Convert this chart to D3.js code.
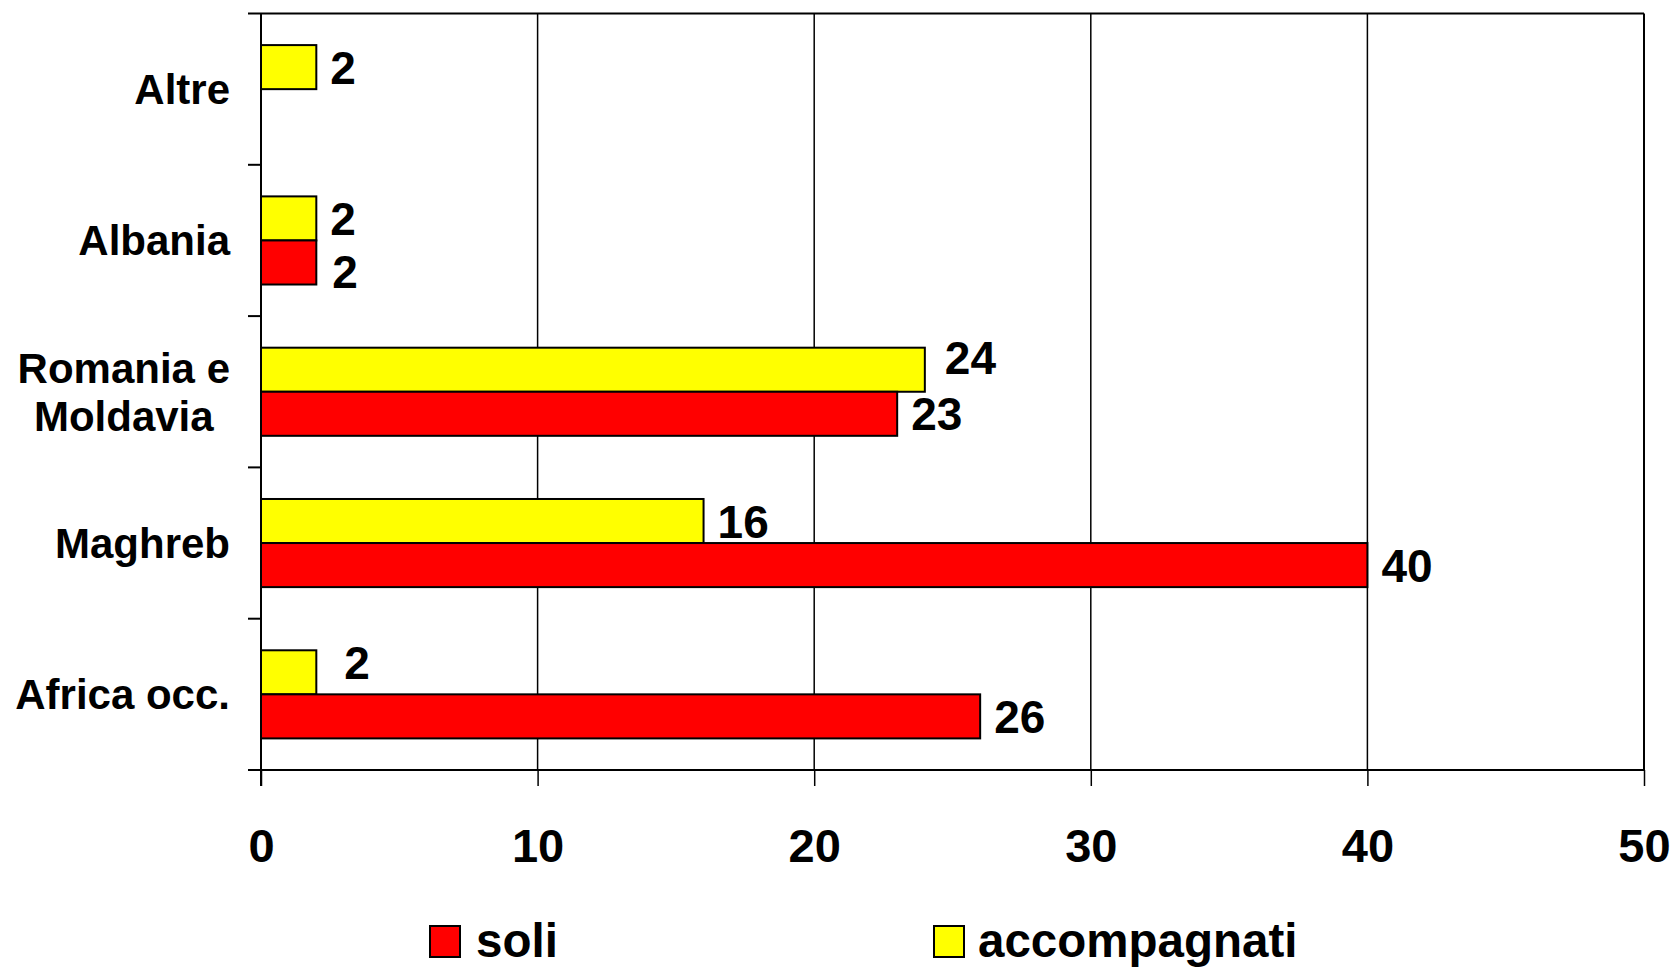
<!DOCTYPE html>
<html>
<head>
<meta charset="utf-8">
<script src="https://cdn.jsdelivr.net/npm/d3@7"></script>
<style>
  html, body { margin: 0; padding: 0; background: #fff; }
  svg { display: block; font-family: "Liberation Sans", Arial, sans-serif; font-weight: bold; }
</style>
</head>
<body>
<svg id="chart" width="1677" height="968"></svg>
<script>
// Categories, top to bottom
const categories = ["Altre", "Albania", "Romania e\nMoldavia", "Maghreb", "Africa occ."];
// Series values per category (null = no bar)
const soli = [null, 2, 23, 40, 26];
const accompagnati = [2, 2, 24, 16, 2];
const seriesNames = ["accompagnati", "soli"];
const xTicks = [0, 10, 20, 30, 40, 50];

const colors = { soli: "#FF0000", accompagnati: "#FFFF00" };

const svg = d3.select("#chart");
const plotLeft = 261, plotRight = 1644, plotTop = 13.5, plotBottom = 770;

const x = d3.scaleLinear().domain([0, 50]).range([plotLeft, plotRight]);
const y = d3.scaleBand().domain(categories).range([plotTop, plotBottom]).padding(0);
const ys = d3.scaleBand().domain(seriesNames).range([0, y.bandwidth()])
  .paddingInner(0).paddingOuter(0.717);

// vertical gridlines
svg.append("g").selectAll("line").data(xTicks.slice(1)).join("line")
  .attr("x1", d => x(d)).attr("x2", d => x(d))
  .attr("y1", plotTop).attr("y2", plotBottom)
  .attr("stroke", "#000").attr("stroke-width", d => d === 50 ? 2 : 1.5);

// top border
svg.append("line").attr("x1", plotLeft - 13).attr("x2", plotRight)
  .attr("y1", plotTop).attr("y2", plotTop).attr("stroke", "#000").attr("stroke-width", 2);

// bars
const rows = [];
categories.forEach((c, i) => {
  rows.push({ cat: c, series: "accompagnati", value: accompagnati[i] });
  rows.push({ cat: c, series: "soli", value: soli[i] });
});
const barRows = rows.filter(r => r.value != null);

svg.append("g").selectAll("rect").data(barRows).join("rect")
  .attr("x", x(0))
  .attr("y", d => y(d.cat) + ys(d.series))
  .attr("width", d => x(d.value) - x(0))
  .attr("height", ys.bandwidth())
  .attr("fill", d => colors[d.series])
  .attr("stroke", "#000").attr("stroke-width", 2);

// small label offsets where labels are shifted to avoid crowding
const nudge = {
  "Romania e\nMoldavia|accompagnati": [6, -12],
  "Africa occ.|accompagnati": [14, -10],
  "Albania|soli": [2, 9]
};
const nd = d => nudge[d.cat + "|" + d.series] || [0, 0];

svg.append("g").selectAll("text").data(barRows).join("text")
  .attr("x", d => x(d.value) + 14 + nd(d)[0])
  .attr("y", d => y(d.cat) + ys(d.series) + ys.bandwidth() / 2 + 16.5 + nd(d)[1])
  .attr("font-size", 46)
  .attr("fill", "#000")
  .text(d => d.value);

// x axis
const xAxis = svg.append("g").attr("transform", `translate(0,${plotBottom})`)
  .call(d3.axisBottom(x).tickValues(xTicks).tickSize(16).tickSizeOuter(0).tickFormat(d3.format("d")));
xAxis.select(".domain").attr("stroke", "#000").attr("stroke-width", 2)
  .attr("d", `M${plotLeft - 13},0H${plotRight}`);
xAxis.selectAll(".tick line").attr("stroke", "#000").attr("stroke-width", 1.5);
xAxis.selectAll(".tick text")
  .attr("y", 92).attr("dy", 0)
  .attr("font-size", 47).attr("font-weight", "bold")
  .attr("font-family", "Liberation Sans, Arial, sans-serif")
  .attr("fill", "#000");

// y axis line and band boundary ticks
const yAxis = svg.append("g").attr("transform", `translate(${plotLeft},0)`)
  .call(d3.axisLeft(y).tickSize(0).tickFormat(""));
yAxis.select(".domain").attr("stroke", "#000").attr("stroke-width", 2)
  .attr("d", `M0,${plotTop}V${plotBottom + 16}`);
const bounds = categories.map(c => y(c)).slice(1).concat([plotBottom]);
yAxis.selectAll(".bound").data(bounds).join("line").attr("class", "bound")
  .attr("x1", -13).attr("x2", 0).attr("y1", d => d).attr("y2", d => d)
  .attr("stroke", "#000").attr("stroke-width", 2);

// category labels: block right-aligned to the axis, lines centred within the block
const catG = svg.append("g");
const labelRight = 230;
categories.forEach(c => {
  const lines = c.split("\n");
  const cy = y(c) + y.bandwidth() / 2;
  const lh = 48;
  const t = catG.append("text")
    .attr("text-anchor", "middle")
    .attr("font-size", 42)
    .attr("fill", "#000");
  const spans = lines.map((ln, k) => t.append("tspan")
    .attr("y", cy + 15 + (k - (lines.length - 1) / 2) * lh)
    .text(ln));
  const maxW = d3.max(spans, s => s.node().getComputedTextLength());
  spans.forEach(s => s.attr("x", labelRight - maxW / 2));
});

// legend
const legendItems = [
  { name: "soli", box: 430, text: 476 },
  { name: "accompagnati", box: 934, text: 978 }
];
const lg = svg.append("g");
lg.selectAll("rect").data(legendItems).join("rect")
  .attr("x", d => d.box).attr("y", 926).attr("width", 30).attr("height", 31)
  .attr("fill", d => colors[d.name]).attr("stroke", "#000").attr("stroke-width", 2);
lg.selectAll("text").data(legendItems).join("text")
  .attr("x", d => d.text).attr("y", 957)
  .attr("font-size", 47.5).attr("fill", "#000")
  .text(d => d.name);
</script>
</body>
</html>
